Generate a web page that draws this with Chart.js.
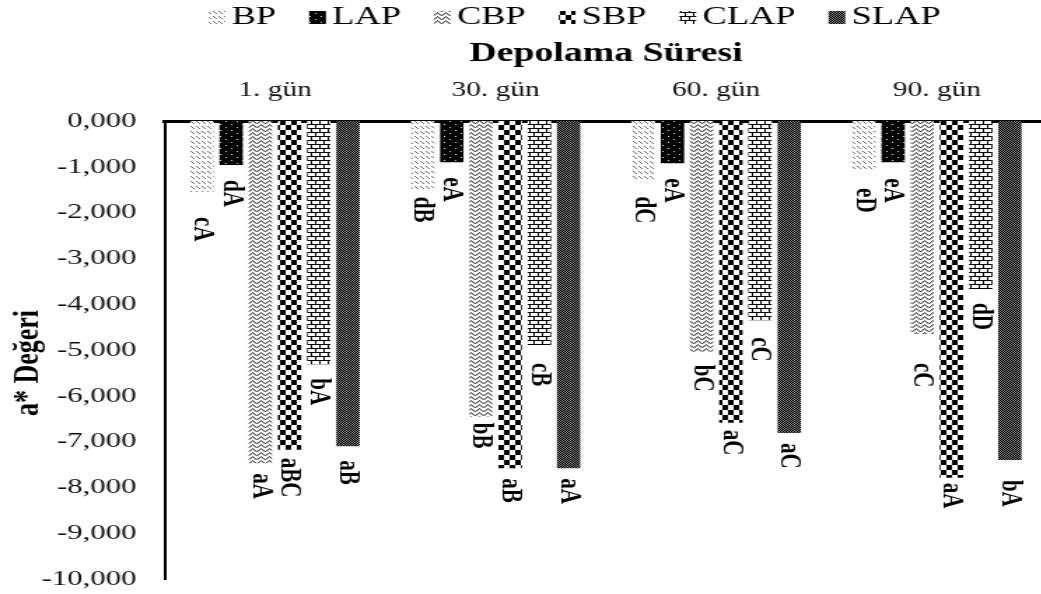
<!DOCTYPE html>
<html>
<head>
<meta charset="utf-8">
<script src="https://cdn.jsdelivr.net/npm/chart.js@4.4.1/dist/chart.umd.min.js"></script>
<style>
  html, body { margin: 0; padding: 0; background: #fff; overflow: hidden; }
  #frame { width: 1041px; height: 594px; overflow: hidden; position: relative; }
  /* the chart is laid out narrow and widened, which gives the wide serif lettering */
  #stretch { width: 760px; height: 594px; transform: scaleX(1.4); transform-origin: 0 0; }
  canvas { display: block; }
</style>
</head>
<body>
<div id="frame"><div id="stretch">
  <canvas id="chart" width="760" height="594" style="width:760px;height:594px"></canvas>
</div></div>
<script>
// storage days
const categories = ['1. gün', '30. gün', '60. gün', '90. gün'];

// a* values per sample
const seriesNames = ['BP', 'LAP', 'CBP', 'SBP', 'CLAP', 'SLAP'];
const bpValues   = [-1.55, -1.50, -1.30, -1.05];
const lapValues  = [-0.96, -0.90, -0.92, -0.90];
const cbpValues  = [-7.47, -6.46, -5.04, -4.65];
const sbpValues  = [-7.18, -7.58, -6.59, -7.79];
const clapValues = [-5.31, -4.89, -4.35, -3.67];
const slapValues = [-7.10, -7.58, -6.81, -7.40];

// significance letters
const bpLetters   = ['cA', 'dB', 'dC', 'eD'];
const lapLetters  = ['dA', 'eA', 'eA', 'eA'];
const cbpLetters  = ['aA', 'bB', 'bC', 'cC'];
const sbpLetters  = ['aBC', 'aB', 'aC', 'aA'];
const clapLetters = ['bA', 'cB', 'cC', 'dD'];
const slapLetters = ['aB', 'aA', 'aC', 'bA'];

// y axis tick labels, 0 down to -10
const tickLabels = ['0,000', '-1,000', '-2,000', '-3,000', '-4,000', '-5,000',
                    '-6,000', '-7,000', '-8,000', '-9,000', '-10,000'];

// distance (px) between a bar end and its letters
const letterGap = [
  [25, 7, 16, 19],
  [15, 15, 15, 16],
  [10, 6, 13, 29],
  [8, 10, 7, 5],
  [14, 18, 17, 14],
  [14, 10, 10, 20]
];

const canvas = document.getElementById('chart');
const ctx = canvas.getContext('2d');

function makePattern(w, h, paint) {
  const tile = document.createElement('canvas');
  tile.width = w; tile.height = h;
  const g = tile.getContext('2d');
  g.fillStyle = '#fff';
  g.fillRect(0, 0, w, h);
  paint(g);
  return ctx.createPattern(tile, 'repeat');
}

// dashed downward diagonal, grey
const bpFill = makePattern(4, 5, g => {
  g.fillStyle = '#747474';
  g.fillRect(0, 1, 1, 1); g.fillRect(1, 2, 1, 1); g.fillRect(2, 3, 1, 1);
});
// black with small light dots
const lapFill = makePattern(8, 6, g => {
  g.fillStyle = '#000'; g.fillRect(0, 0, 8, 6);
  g.fillStyle = '#d8d8d8'; g.fillRect(1, 1, 1, 1); g.fillRect(5, 4, 1, 1);
});
// zig zag, grey
const cbpFill = makePattern(6, 4, g => {
  g.fillStyle = '#5c5c5c';
  g.fillRect(0, 0, 1, 1); g.fillRect(1, 1, 1, 1); g.fillRect(2, 2, 1, 1);
  g.fillRect(3, 3, 1, 1); g.fillRect(4, 2, 1, 1); g.fillRect(5, 1, 1, 1);
  g.fillStyle = '#a8a8a8';
  g.fillRect(0, 1, 1, 1); g.fillRect(1, 2, 1, 1); g.fillRect(2, 3, 1, 1);
  g.fillRect(4, 3, 1, 1); g.fillRect(5, 2, 1, 1);
});
// large checker board
const sbpFill = makePattern(8, 10, g => {
  g.fillStyle = '#000'; g.fillRect(0, 0, 4, 5); g.fillRect(4, 5, 4, 5);
});
// horizontal brick
const clapFill = makePattern(6, 8, g => {
  g.fillStyle = '#000';
  g.fillRect(0, 0, 6, 1); g.fillRect(0, 4, 6, 1);
  g.fillRect(0, 1, 1, 3); g.fillRect(3, 5, 1, 3);
});
// fine dark checker
const slapFill = makePattern(2, 2, g => {
  g.fillStyle = '#000'; g.fillRect(0, 0, 1, 1); g.fillRect(1, 1, 1, 1);
  g.fillStyle = '#7a7a7a'; g.fillRect(1, 0, 1, 1); g.fillRect(0, 1, 1, 1);
});

const seriesValues  = [bpValues, lapValues, cbpValues, sbpValues, clapValues, slapValues];
const seriesLetters = [bpLetters, lapLetters, cbpLetters, sbpLetters, clapLetters, slapLetters];
const seriesFills   = [bpFill, lapFill, cbpFill, sbpFill, clapFill, slapFill];

const SERIF = '"Liberation Serif", "Times New Roman", serif';
Chart.defaults.font.family = SERIF;
Chart.defaults.color = '#000';

// letters written downwards under every bar
const barLetters = {
  id: 'barLetters',
  afterDatasetsDraw(chart) {
    const c = chart.ctx;
    c.save();
    c.font = 'bold 21px ' + SERIF;
    c.fillStyle = '#000';
    c.textAlign = 'left';
    c.textBaseline = 'middle';
    chart.data.datasets.forEach((ds, i) => {
      chart.getDatasetMeta(i).data.forEach((bar, j) => {
        c.save();
        c.translate(bar.x, bar.y + letterGap[i][j]);
        c.rotate(Math.PI / 2);
        c.fillText(seriesLetters[i][j], 0, 0);
        c.restore();
      });
    });
    c.restore();
  }
};

// series key across the top
const seriesKey = {
  id: 'seriesKey',
  afterDraw(chart) {
    const c = chart.ctx;
    c.save();
    c.font = '26px ' + SERIF;
    c.textBaseline = 'alphabetic';
    let x = 149;
    chart.data.datasets.forEach(ds => {
      c.fillStyle = ds.backgroundColor;
      c.fillRect(x, 11, 12, 13);
      x += 16.5;
      c.fillStyle = '#000';
      c.fillText(ds.label, x, 24);
      x += c.measureText(ds.label).width + 23.5;
    });
    c.restore();
  }
};

new Chart(canvas, {
  type: 'bar',
  data: {
    labels: categories,
    datasets: seriesNames.map((name, i) => ({
      label: name,
      data: seriesValues[i],
      backgroundColor: seriesFills[i],
      borderWidth: 0,
      categoryPercentage: 0.794,
      barPercentage: 0.80
    }))
  },
  options: {
    responsive: false,
    animation: false,
    devicePixelRatio: 1,
    layout: { padding: { left: 0, right: 12, top: 0, bottom: 15 } },
    plugins: {
      legend: { display: false },
      tooltip: { enabled: false }
    },
    scales: {
      x: {
        position: 'top',
        grid: { display: false, drawTicks: false },
        border: { display: true, color: '#000', width: 3 },
        ticks: { padding: 18, color: '#111', font: { size: 21 } },
        title: {
          display: true,
          text: 'Depolama Süresi',
          color: '#000',
          font: { size: 27, weight: 'bold' },
          padding: { top: 38, bottom: 0 }
        },
        afterFit(scale) { scale.height = 121; }
      },
      y: {
        min: -10,
        max: 0,
        grid: { display: false, drawTicks: false },
        border: { display: true, color: '#000', width: 2 },
        ticks: {
          stepSize: 1,
          padding: 20,
          color: '#111',
          font: { size: 22 },
          callback: v => tickLabels[Math.round(-v)]
        },
        title: {
          display: true,
          text: 'a* Değeri\u00A0\u00A0\u00A0\u00A0',
          color: '#000',
          font: { size: 26, weight: 'bold' },
          padding: { top: 4.5, bottom: 0 }
        },
        afterFit(scale) {
          scale.width = 117.6;
          // the end labels fit inside the layout padding
          scale.paddingTop = 0;
          scale.paddingBottom = 0;
        }
      }
    }
  },
  plugins: [barLetters, seriesKey]
});
</script>
</body>
</html>
